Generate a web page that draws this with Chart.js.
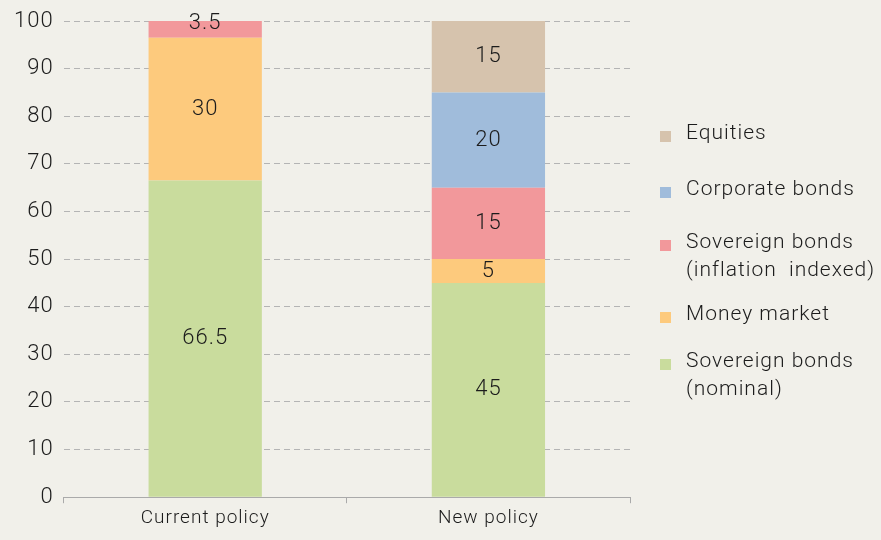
<!DOCTYPE html>
<html>
<head>
<meta charset="utf-8">
<script src="https://cdn.jsdelivr.net/npm/chart.js@4"></script>
<style>
  html, body { margin: 0; padding: 0; background: #f1f0ea; }
  #wrap { width: 881px; height: 540px; }
</style>
</head>
<body>
<div id="wrap"><canvas id="myChart" width="881" height="540"></canvas></div>
<script>
var categories = ['Current policy', 'New policy'];
var sovNominal = [66.5, 45];
var moneyMarket = [30, 5];
var sovInflation = [3.5, 15];
var corporate = [null, 20];
var equities = [null, 15];
var yTicks = [0, 10, 20, 30, 40, 50, 60, 70, 80, 90, 100];

var FONT = 'Roboto, "DejaVu Sans", sans-serif';
var TEXT = '#1c1c1c';

// wider letter spacing like the original DIN-style type
var spacing = {
    id: 'spacing',
    beforeUpdate: function (chart) { chart.ctx.letterSpacing = '1px'; },
    beforeDraw: function (chart) { chart.ctx.letterSpacing = '1px'; }
};

// value labels in the middle of each segment
var valueLabels = {
    id: 'valueLabels',
    afterDatasetsDraw: function (chart) {
        var ctx = chart.ctx;
        ctx.save();
        ctx.font = '300 22px ' + FONT;
        ctx.fillStyle = TEXT;
        ctx.textAlign = 'center';
        ctx.textBaseline = 'middle';
        chart.data.datasets.forEach(function (ds, i) {
            chart.getDatasetMeta(i).data.forEach(function (bar, j) {
                var v = ds.data[j];
                if (v == null) return;
                var y = (bar.y + bar.base) / 2;
                if (v < 4) y -= 6;
                ctx.fillText(String(v), bar.x, y);
            });
        });
        ctx.restore();
    }
};

// legend on the right, top item = last dataset
var sideLegend = {
    id: 'sideLegend',
    afterDraw: function (chart) {
        var ctx = chart.ctx;
        var rows = [134, 190, 243, 315, 362];
        var ds = chart.data.datasets.slice().reverse();
        ctx.save();
        ctx.font = '300 21px ' + FONT;
        ctx.fillStyle = TEXT;
        ctx.textBaseline = 'middle';
        ds.forEach(function (d, i) {
            var y = rows[i];
            ctx.fillStyle = d.backgroundColor;
            ctx.fillRect(660, y - 3, 11, 11);
            ctx.fillStyle = TEXT;
            d.legendLines.forEach(function (line, k) {
                ctx.fillText(line, 686, y + k * 28);
            });
        });
        ctx.restore();
    }
};

var ctx = document.getElementById('myChart').getContext('2d');
var chart = new Chart(ctx, {
    type: 'bar',
    data: {
        labels: categories,
        datasets: [
            { label: 'Sovereign bonds (nominal)', legendLines: ['Sovereign bonds', '(nominal)'],
              data: sovNominal, backgroundColor: '#c9dc9d' },
            { label: 'Money market', legendLines: ['Money market'],
              data: moneyMarket, backgroundColor: '#fdca7d' },
            { label: 'Sovereign bonds (inflation indexed)', legendLines: ['Sovereign bonds', '(inflation  indexed)'],
              data: sovInflation, backgroundColor: '#f2989b' },
            { label: 'Corporate bonds', legendLines: ['Corporate bonds'],
              data: corporate, backgroundColor: '#a0bcdb' },
            { label: 'Equities', legendLines: ['Equities'],
              data: equities, backgroundColor: '#d6c3ad' }
        ]
    },
    options: {
        responsive: false,
        animation: false,
        layout: { padding: { left: 4, right: 251, top: 9, bottom: 6 } },
        datasets: { bar: { barPercentage: 0.4, categoryPercentage: 1 } },
        plugins: {
            legend: { display: false },
            tooltip: { enabled: false }
        },
        scales: {
            x: {
                stacked: true,
                grid: { drawOnChartArea: false, drawTicks: true, tickLength: 6, color: '#aaaaaa', offset: true },
                border: { display: true, color: '#aaaaaa', width: 1 },
                ticks: { color: TEXT, font: { family: FONT, size: 19, weight: 300 }, padding: 4 }
            },
            y: {
                stacked: true,
                min: 0,
                max: 100,
                afterBuildTicks: function (axis) {
                    axis.ticks = yTicks.map(function (v) { return { value: v }; });
                },
                grid: { color: '#b4b4b4', drawTicks: false, lineWidth: 1 },
                border: { display: false, dash: [6, 4] },
                ticks: { color: TEXT, font: { family: FONT, size: 22, weight: 300, lineHeight: 1 }, padding: 10 }
            }
        }
    },
    plugins: [spacing, valueLabels, sideLegend]
});
</script>
</body>
</html>
